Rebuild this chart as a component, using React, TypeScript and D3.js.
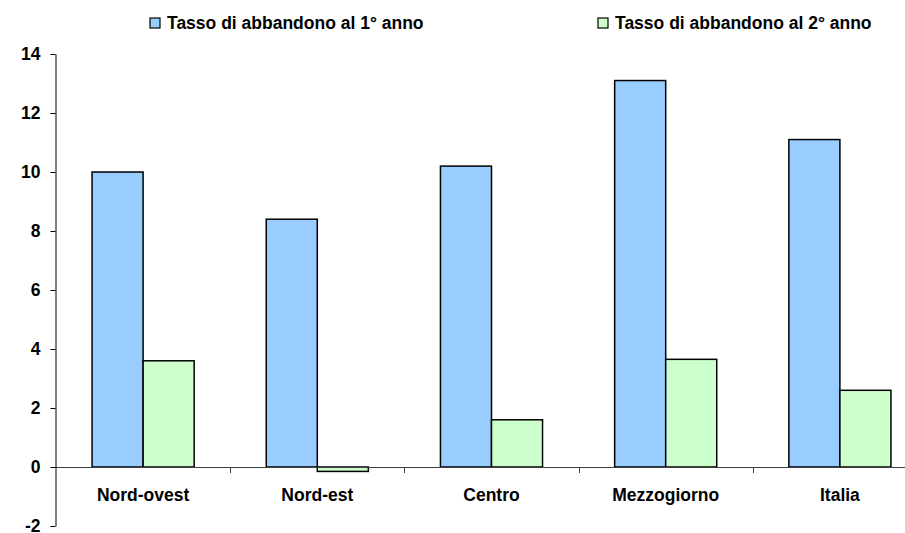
import * as d3 from 'd3';
import React, { useEffect, useRef } from 'react';

const regions = ['Nord-ovest', 'Nord-est', 'Centro', 'Mezzogiorno', 'Italia'];
const seriesNames = ['Tasso di abbandono al 1° anno', 'Tasso di abbandono al 2° anno'];
const firstYear = [10.0, 8.4, 10.2, 13.1, 11.1];
const secondYear = [3.6, -0.15, 1.6, 3.65, 2.6];
const yTicks = [-2, 0, 2, 4, 6, 8, 10, 12, 14];

const colors = ['#99CCFF', '#CCFFCC'];

const App = () => {
  const ref = useRef(null);

  useEffect(() => {
    const svg = d3.select(ref.current);
    svg.selectAll('*').remove();

    const font = "'Liberation Sans', Arial, sans-serif";
    const fontSize = 17.5;

    // scales
    const x = d3.scaleBand().domain(regions).range([56, 56 + 5 * 174.2]).padding(0);
    const x1 = d3.scaleBand()
      .domain(['0', '1'])
      .range([x.bandwidth() * 0.207, x.bandwidth() * 0.793]);
    const y = d3.scaleLinear().domain([-2, 14]).range([526, 54]);

    const data = regions.map((r, i) => ({ region: r, values: [firstYear[i], secondYear[i]] }));

    // bars
    const groups = svg.append('g')
      .selectAll('g')
      .data(data)
      .join('g')
      .attr('transform', d => `translate(${x(d.region)},0)`);

    groups.selectAll('rect')
      .data(d => d.values.map((v, k) => ({ v, k })))
      .join('rect')
      .attr('x', d => x1(String(d.k)))
      .attr('width', x1.bandwidth())
      .attr('y', d => y(Math.max(0, d.v)))
      .attr('height', d => Math.abs(y(d.v) - y(0)))
      .attr('fill', d => colors[d.k])
      .attr('stroke', '#000')
      .attr('stroke-width', 1.5);

    // x axis (zero line)
    const xAxis = svg.append('g');
    xAxis.append('line')
      .attr('x1', 55.5).attr('x2', 905)
      .attr('y1', y(0) + 0.5).attr('y2', y(0) + 0.5)
      .attr('stroke', '#404040').attr('stroke-width', 1);
    xAxis.selectAll('.xt')
      .data(regions.slice(1))
      .join('line')
      .attr('x1', d => Math.round(x(d)) + 0.5)
      .attr('x2', d => Math.round(x(d)) + 0.5)
      .attr('y1', y(0)).attr('y2', y(0) + 6)
      .attr('stroke', '#404040');
    xAxis.selectAll('text')
      .data(regions)
      .join('text')
      .attr('x', d => x(d) + x.bandwidth() / 2)
      .attr('y', 501)
      .attr('text-anchor', 'middle')
      .attr('font-family', font)
      .attr('font-size', fontSize)
      .attr('font-weight', 'bold')
      .attr('fill', '#000')
      .text(d => d);

    // y axis
    const yAxis = svg.append('g')
      .attr('transform', 'translate(55.5,0)')
      .call(d3.axisLeft(y).tickValues(yTicks).tickSize(5).tickSizeOuter(0).tickPadding(10)
        .tickFormat(d => String(d)));
    yAxis.select('.domain').attr('stroke', '#000');
    yAxis.selectAll('.tick line').attr('stroke', '#000');
    yAxis.selectAll('.tick text')
      .attr('font-family', font)
      .attr('font-size', fontSize)
      .attr('font-weight', 'bold')
      .attr('fill', '#000');

    // legend
    const legendX = [150, 598];
    const legend = svg.append('g')
      .selectAll('g')
      .data(seriesNames)
      .join('g')
      .attr('transform', (d, i) => `translate(${legendX[i]},18)`);
    legend.append('rect')
      .attr('width', 10).attr('height', 10)
      .attr('fill', (d, i) => colors[i])
      .attr('stroke', '#000').attr('stroke-width', 1.2);
    legend.append('text')
      .attr('x', 17).attr('y', 10.5)
      .attr('font-family', font)
      .attr('font-size', fontSize)
      .attr('font-weight', 'bold')
      .attr('fill', '#000')
      .text(d => d);
  }, []);

  return (
    <svg ref={ref} width={905} height={533}
      style={{ position: 'absolute', left: 0, top: 0, background: '#fff' }} />
  );
};

export default App;
